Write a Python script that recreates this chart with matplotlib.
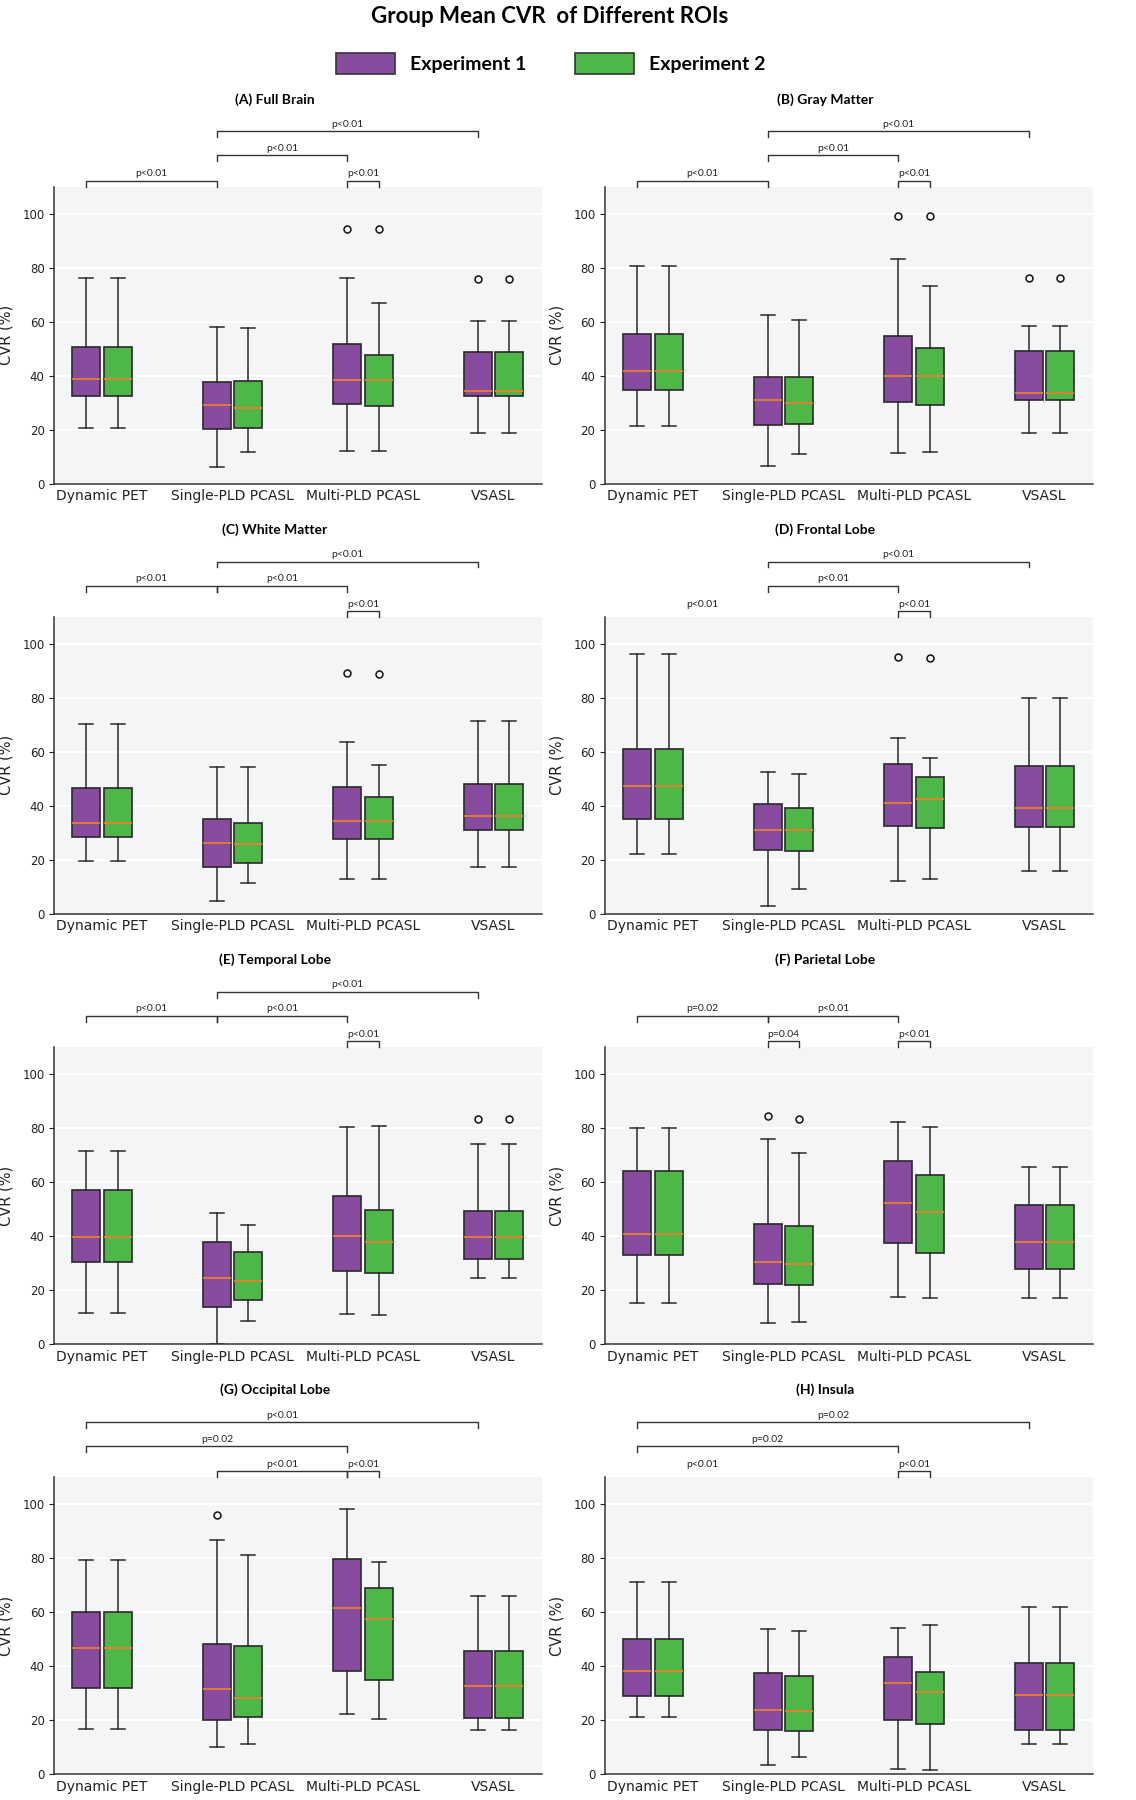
import matplotlib
matplotlib.use('Agg')
import matplotlib.pyplot as plt
from matplotlib.patches import Patch

# panels and groups
regions = ['(A) Full Brain', '(B) Gray Matter', '(C) White Matter', '(D) Frontal Lobe',
           '(E) Temporal Lobe', '(F) Parietal Lobe', '(G) Occipital Lobe', '(H) Insula']
methods = ['Dynamic PET', 'Single-PLD PCASL', 'Multi-PLD PCASL', 'VSASL']
series_names = ['Experiment 1', 'Experiment 2']

# box statistics, one row per panel, one value per method
exp1_whishi = [[76.0, 58.2, 76.0, 60.3], [80.8, 62.3, 83.1, 58.3], [70.5, 54.5, 63.7, 71.5],
               [96.4, 52.4, 65.2, 79.8], [71.5, 48.5, 80.5, 74.0], [80.1, 76.0, 82.1, 65.6],
               [79.4, 86.9, 98.1, 66.2], [71.2, 54.0, 54.2, 62.1]]
exp1_q3 = [[50.7, 37.7, 51.7, 48.8], [55.5, 39.6, 54.7, 49.0], [46.5, 35.0, 46.9, 48.1],
           [60.9, 40.8, 55.5, 54.7], [57.2, 38.0, 54.9, 49.4], [64.1, 44.6, 68.0, 51.7],
           [60.2, 48.4, 79.8, 45.7], [50.2, 37.5, 43.5, 41.1]]
exp1_med = [[38.7, 29.2, 38.5, 34.5], [41.6, 30.9, 40.0, 33.5], [33.8, 26.1, 34.5, 36.3],
            [47.2, 30.9, 41.2, 39.3], [39.8, 24.6, 39.9, 39.5], [40.9, 30.5, 52.1, 37.7],
            [46.9, 31.6, 61.6, 32.6], [38.4, 23.7, 33.8, 29.5]]
exp1_q1 = [[32.4, 20.2, 29.7, 32.6], [34.8, 21.9, 30.3, 31.1], [28.6, 17.5, 27.6, 31.1],
           [35.1, 23.8, 32.7, 32.1], [30.5, 13.6, 26.9, 31.6], [33.0, 22.3, 37.5, 27.7],
           [32.0, 20.0, 38.1, 20.7], [28.9, 16.3, 20.2, 16.3]]
exp1_whislo = [[20.8, 6.3, 12.1, 18.7], [21.3, 6.5, 11.3, 18.6], [19.6, 4.9, 12.8, 17.3],
               [22.1, 3.0, 12.3, 16.0], [11.7, 0.1, 11.0, 24.3], [15.3, 7.7, 17.3, 17.2],
               [16.8, 10.1, 22.3, 16.4], [21.2, 3.6, 2.0, 11.1]]
exp1_fliers = [[[], [], [94.5], [75.7]], [[], [], [99.1], [76.2]], [[], [], [89.3], []],
               [[], [], [95.2], []], [[], [], [], [83.3]], [[], [84.6], [], []],
               [[], [95.9], [], []], [[], [], [], []]]

exp2_whishi = [[76.0, 57.8, 67.0, 60.3], [80.8, 60.5, 73.2, 58.3], [70.5, 54.3, 55.0, 71.5],
               [96.4, 51.8, 57.6, 79.8], [71.5, 44.1, 80.6, 74.0], [80.1, 70.7, 80.5, 65.6],
               [79.4, 81.2, 78.6, 66.2], [71.2, 53.0, 55.3, 62.1]]
exp2_q3 = [[50.7, 38.0, 47.6, 48.8], [55.5, 39.6, 50.3, 49.0], [46.5, 33.5, 43.3, 48.1],
           [60.9, 39.3, 50.8, 54.7], [57.2, 34.0, 49.5, 49.4], [64.1, 43.7, 62.8, 51.7],
           [60.2, 47.4, 68.9, 45.7], [50.2, 36.5, 38.0, 41.1]]
exp2_med = [[38.7, 28.1, 38.5, 34.5], [41.6, 29.8, 40.0, 33.5], [33.8, 25.9, 34.5, 36.3],
            [47.2, 30.9, 42.5, 39.3], [39.8, 23.5, 37.8, 39.5], [40.9, 29.6, 49.0, 37.7],
            [46.9, 28.1, 57.4, 32.6], [38.4, 23.3, 30.6, 29.5]]
exp2_q1 = [[32.4, 20.8, 28.9, 32.6], [34.8, 22.2, 29.2, 31.1], [28.6, 19.0, 27.6, 31.1],
           [35.1, 23.4, 31.9, 32.1], [30.5, 16.3, 26.3, 31.6], [33.0, 22.0, 33.7, 27.7],
           [32.0, 21.2, 35.1, 20.7], [28.9, 16.2, 18.8, 16.3]]
exp2_whislo = [[20.8, 11.7, 12.2, 18.7], [21.3, 11.0, 11.6, 18.6], [19.6, 11.3, 12.9, 17.3],
               [22.1, 9.4, 12.9, 16.0], [11.7, 8.4, 10.9, 24.3], [15.3, 8.1, 17.2, 17.2],
               [16.8, 11.1, 20.6, 16.4], [21.2, 6.5, 1.6, 11.1]]
exp2_fliers = [[[], [], [94.2], [75.7]], [[], [], [99.1], [76.2]], [[], [], [88.9], []],
               [[], [], [94.7], []], [[], [], [], [83.3]], [[], [83.5], [], []],
               [[], [], [], []], [[], [], [], []]]

# significance brackets: (group1, series1, group2, series2, level, label, draw line)
pvals = [
    [(0, 0, 1, 0, 1, 'p<0.01', True), (1, 0, 2, 0, 2, 'p<0.01', True),
     (1, 0, 3, 0, 3, 'p<0.01', True), (2, 0, 2, 1, 1, 'p<0.01', True)],
    [(0, 0, 1, 0, 1, 'p<0.01', True), (1, 0, 2, 0, 2, 'p<0.01', True),
     (1, 0, 3, 0, 3, 'p<0.01', True), (2, 0, 2, 1, 1, 'p<0.01', True)],
    [(0, 0, 1, 0, 2, 'p<0.01', True), (1, 0, 2, 0, 2, 'p<0.01', True),
     (1, 0, 3, 0, 3, 'p<0.01', True), (2, 0, 2, 1, 1, 'p<0.01', True)],
    [(0, 0, 1, 0, 1, 'p<0.01', False), (1, 0, 2, 0, 2, 'p<0.01', True),
     (1, 0, 3, 0, 3, 'p<0.01', True), (2, 0, 2, 1, 1, 'p<0.01', True)],
    [(0, 0, 1, 0, 2, 'p<0.01', True), (1, 0, 2, 0, 2, 'p<0.01', True),
     (1, 0, 3, 0, 3, 'p<0.01', True), (2, 0, 2, 1, 1, 'p<0.01', True)],
    [(0, 0, 1, 0, 2, 'p=0.02', True), (1, 0, 2, 0, 2, 'p<0.01', True),
     (1, 0, 1, 1, 1, 'p=0.04', True), (2, 0, 2, 1, 1, 'p<0.01', True)],
    [(0, 0, 3, 0, 3, 'p<0.01', True), (0, 0, 2, 0, 2, 'p=0.02', True),
     (1, 0, 2, 0, 1, 'p<0.01', True), (2, 0, 2, 1, 1, 'p<0.01', True)],
    [(0, 0, 3, 0, 3, 'p=0.02', True), (0, 0, 2, 0, 2, 'p=0.02', True),
     (0, 0, 1, 0, 1, 'p<0.01', False), (2, 0, 2, 1, 1, 'p<0.01', True)],
]

colors = ['#894ba0', '#4db848']
bg = '#f4f5f7'
dark = '#2a2a2a'
head_font = ['Lato', 'DejaVu Sans']

W, H = 1136, 1800
fig = plt.figure(figsize=(W / 100, H / 100), dpi=100)

offset = 0.12
level_base = {1: 110.0, 2: 119.4, 3: 128.3}

stats1 = [exp1_whislo, exp1_q1, exp1_med, exp1_q3, exp1_whishi, exp1_fliers]
stats2 = [exp2_whislo, exp2_q1, exp2_med, exp2_q3, exp2_whishi, exp2_fliers]


def make_stats(arrs, p):
    lo, q1, md, q3, hi, fl = arrs
    out = []
    for g in range(len(methods)):
        out.append(dict(whislo=lo[p][g], q1=q1[p][g], med=md[p][g], q3=q3[p][g],
                        whishi=hi[p][g], fliers=fl[p][g]))
    return out


for p, name in enumerate(regions):
    row, col = p // 2, p % 2
    top_px = 186.7 + 430.2 * row
    ah = 297.0
    aw = 487.5
    left = 54.3 if col == 0 else 605.2
    ax = fig.add_axes([left / W, 1 - (top_px + ah) / H, aw / W, ah / H])
    ax.set_facecolor(bg)
    ax.set_axisbelow(True)
    ax.grid(axis='y', color='white', linewidth=1.3)

    for s, arrs in enumerate([stats1, stats2]):
        pos = [g + (offset if s else -offset) for g in range(len(methods))]
        ax.bxp(make_stats(arrs, p), positions=pos, widths=0.214, patch_artist=True,
               boxprops=dict(facecolor=colors[s], edgecolor=dark, linewidth=1.2),
               medianprops=dict(color='#ea7d2c', linewidth=1.3),
               whiskerprops=dict(color=dark, linewidth=1.1),
               capprops=dict(color=dark, linewidth=1.1),
               flierprops=dict(marker='o', markerfacecolor='none', markeredgecolor='#111111',
                               markersize=5, markeredgewidth=1.1))

    ax.set_xlim(-0.366, 3.37)
    ax.set_ylim(0, 110)
    ax.set_yticks([0, 20, 40, 60, 80, 100])
    ax.set_xticks(range(len(methods)))
    ax.set_xticklabels(methods, fontsize=10, color='#222222')
    ax.tick_params(axis='y', labelsize=8.5, colors='#222222', length=3.5)
    ax.tick_params(axis='x', length=0, pad=4)
    ax.set_ylabel('CVR (%)', fontsize=10.5, color='#222222')
    ax.yaxis.set_label_coords(-0.083, 0.5)
    for sp in ['top', 'right']:
        ax.spines[sp].set_visible(False)
    for sp in ['left', 'bottom']:
        ax.spines[sp].set_color('#333333')
        ax.spines[sp].set_linewidth(1.1)

    for g1, s1, g2, s2, lvl, label, draw in pvals[p]:
        x1 = g1 + (offset if s1 else -offset)
        x2 = g2 + (offset if s2 else -offset)
        y0 = level_base[lvl]
        y1 = y0 + 2.2
        if draw:
            ax.plot([x1, x1, x2, x2], [y0, y1, y1, y0], color='#333333', linewidth=1.0,
                    clip_on=False)
        ax.text((x1 + x2) / 2, y1 + 0.9, label, ha='center', va='bottom', fontsize=7.5,
                family=head_font, color='#222222', clip_on=False)

    ax.text(0.452, 1.294, name, transform=ax.transAxes, ha='center', va='center',
            fontsize=10, fontweight='bold', family=head_font)

fig.text(0.4835, 1 - 16.5 / H, 'Group Mean CVR  of Different ROIs', ha='center', va='center',
         fontsize=16, fontweight='bold', family=head_font)

handles = [Patch(facecolor=colors[i], edgecolor='#333333', linewidth=1.2, label=series_names[i])
           for i in range(2)]
leg = fig.legend(handles=handles, loc='center', bbox_to_anchor=(0.485, 1 - 63.5 / H), ncol=2,
                 frameon=False, handlelength=3.0, handleheight=1.3, handletextpad=0.8,
                 columnspacing=2.5, prop=dict(family=head_font, weight='bold', size=14))

fig.savefig('out.png', dpi=100, facecolor='white')
